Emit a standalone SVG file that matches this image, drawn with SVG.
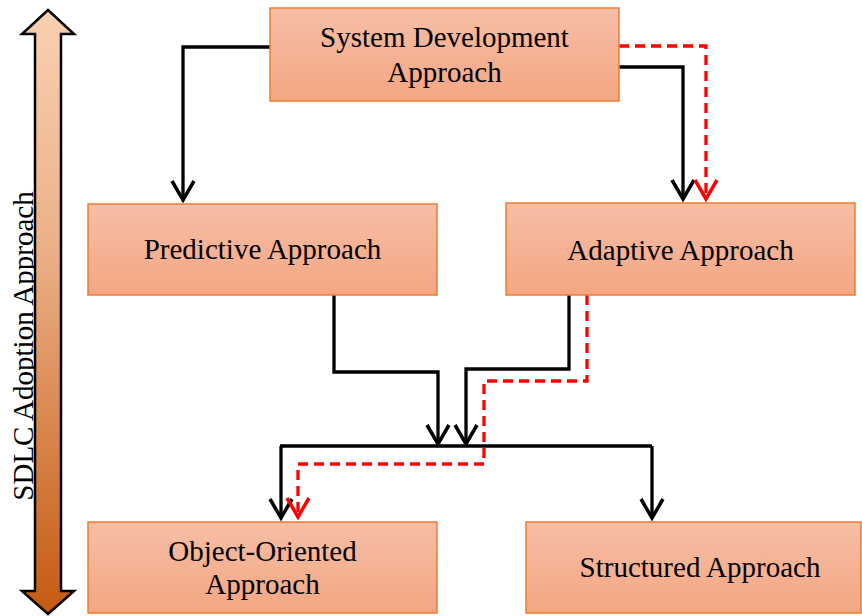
<svg xmlns="http://www.w3.org/2000/svg" width="862" height="616" viewBox="0 0 862 616">
  <defs>
    <linearGradient id="boxGrad" x1="0" y1="0" x2="0" y2="1">
      <stop offset="0" stop-color="#f6bea6"/>
      <stop offset="1" stop-color="#f4a682"/>
    </linearGradient>
    <linearGradient id="sideGrad" x1="0" y1="0" x2="0" y2="1">
      <stop offset="0" stop-color="#f9d0b2"/>
      <stop offset="0.4" stop-color="#ebb086"/>
      <stop offset="1" stop-color="#c55a11"/>
    </linearGradient>
    <marker id="ahBlack" markerUnits="userSpaceOnUse" viewBox="-24 -14 28 28" refX="0" refY="0" markerWidth="28" markerHeight="28" orient="auto">
      <path d="M-19,-11 L0,0 L-19,11" fill="none" stroke="#000" stroke-width="3.5"/>
    </marker>
    <marker id="ahRed" markerUnits="userSpaceOnUse" viewBox="-24 -14 28 28" refX="0" refY="0" markerWidth="28" markerHeight="28" orient="auto">
      <path d="M-19,-11 L0,0 L-19,11" fill="none" stroke="#ff0000" stroke-width="3.5"/>
    </marker>
  </defs>
  <style>
    .box { fill: url(#boxGrad); stroke: #ed7d31; stroke-width: 1.5; }
    .lbl { font-family: "Liberation Serif", "Times New Roman", serif; font-size: 29px; fill: #000; text-anchor: middle; }
    .blk { fill: none; stroke: #000; stroke-width: 3.3; }
    .red { fill: none; stroke: #ff0000; stroke-width: 3.3; stroke-dasharray: 10 6; }
  </style>
  <rect width="862" height="616" fill="#ffffff"/>

  <g id="side-axis">
    <text class="lbl" transform="translate(33,346) rotate(-90)">SDLC Adoption Approach</text>
    <polygon points="48,10 74,34 61,34 61,591 74,591 48,614 22,591 35,591 35,34 22,34" fill="url(#sideGrad)" stroke="#000" stroke-width="2.5" stroke-linejoin="miter"/>
  </g>

  <g id="connectors">
    <path class="blk" d="M270,47 H183 V200" marker-end="url(#ahBlack)"/>
    <path class="blk" d="M619,67 H683 V199" marker-end="url(#ahBlack)"/>
    <path class="red" d="M619,46 H706 V199" marker-end="url(#ahRed)"/>
    <path class="blk" d="M334,295 V372 H438 V444" marker-end="url(#ahBlack)"/>
    <path class="blk" d="M569,295 V369 H466 V444" marker-end="url(#ahBlack)"/>
    <path class="blk" d="M280,446 H652"/>
    <path class="blk" d="M281,446 V518" marker-end="url(#ahBlack)"/>
    <path class="blk" d="M652,446 V518" marker-end="url(#ahBlack)"/>
    <path class="red" d="M587,295 V381 H484 V464 H298 V517" marker-end="url(#ahRed)"/>
  </g>

  <g id="node-system">
    <rect class="box" x="270" y="8" width="349" height="93"/>
    <text class="lbl" x="444.5" y="47">System Development</text>
    <text class="lbl" x="444.5" y="82">Approach</text>
  </g>
  <g id="node-predictive">
    <rect class="box" x="88" y="204" width="349" height="91"/>
    <text class="lbl" x="262.5" y="259">Predictive Approach</text>
  </g>
  <g id="node-adaptive">
    <rect class="box" x="506" y="203" width="349" height="92"/>
    <text class="lbl" x="680.5" y="260">Adaptive Approach</text>
  </g>
  <g id="node-object">
    <rect class="box" x="88" y="522" width="349" height="91"/>
    <text class="lbl" x="262.5" y="561">Object-Oriented</text>
    <text class="lbl" x="262.5" y="594">Approach</text>
  </g>
  <g id="node-structured">
    <rect class="box" x="526" y="522" width="335" height="91"/>
    <text class="lbl" x="700" y="577">Structured Approach</text>
  </g>
</svg>
